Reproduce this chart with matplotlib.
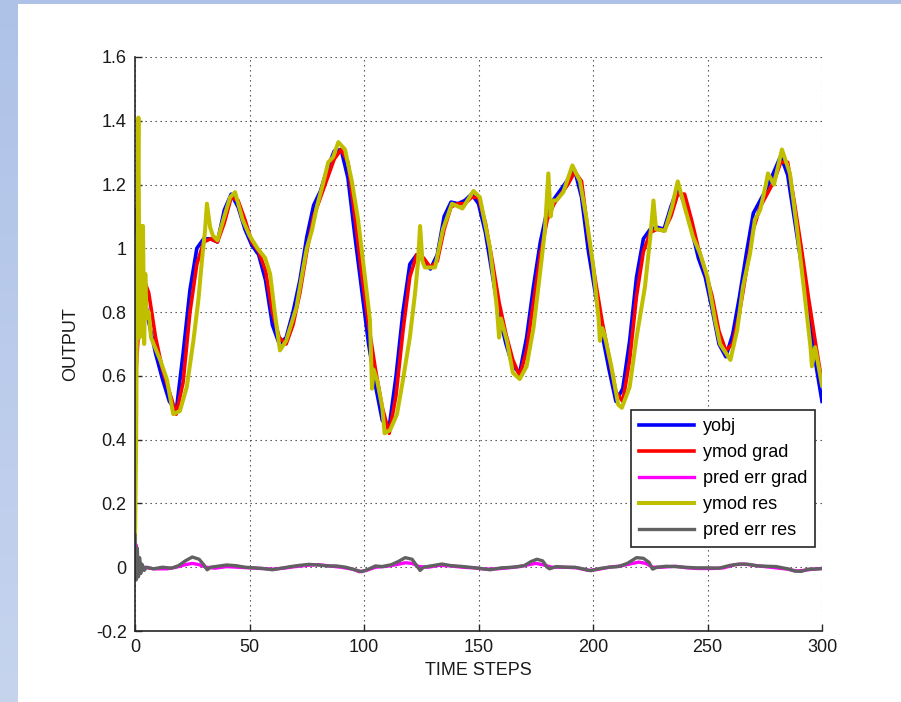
import numpy as np
import matplotlib
matplotlib.use('Agg')
import matplotlib.pyplot as plt

#%%
# data
t_grid = list(range(0, 301, 3))

yobj = [1.12, 0.90, 0.77, 0.67, 0.59, 0.52, 0.49, 0.67, 0.87, 1.00,
        1.03, 1.03, 1.02, 1.12, 1.17, 1.13, 1.06, 1.01, 0.98, 0.90,
        0.76, 0.70, 0.72, 0.80, 0.90, 1.035, 1.135, 1.18, 1.25, 1.305,
        1.31, 1.22, 1.04, 0.87, 0.70, 0.57, 0.46, 0.44, 0.60, 0.80,
        0.95, 0.98, 0.965, 0.935, 0.98, 1.10, 1.145, 1.14, 1.15, 1.17,
        1.14, 1.05, 0.92, 0.79, 0.70, 0.63, 0.61, 0.72, 0.88, 1.02,
        1.12, 1.155, 1.185, 1.215, 1.245, 1.16, 0.99, 0.86, 0.73, 0.62,
        0.52, 0.56, 0.71, 0.91, 1.03, 1.06, 1.066, 1.06, 1.13, 1.19,
        1.14, 1.06, 0.97, 0.91, 0.81, 0.70, 0.66, 0.73, 0.85, 0.985,
        1.11, 1.15, 1.19, 1.24, 1.29, 1.23, 1.09, 0.95, 0.80, 0.65,
        0.52]

ymod_grad = [0.56, 0.92, 0.86, 0.72, 0.62, 0.55, 0.48, 0.58, 0.80, 0.95,
             1.02, 1.03, 1.02, 1.08, 1.16, 1.15, 1.09, 1.02, 0.99, 0.93,
             0.80, 0.72, 0.70, 0.76, 0.86, 0.99, 1.10, 1.16, 1.22, 1.28,
             1.31, 1.27, 1.10, 0.92, 0.76, 0.62, 0.50, 0.42, 0.54, 0.74,
             0.91, 0.98, 0.97, 0.94, 0.96, 1.06, 1.13, 1.14, 1.14, 1.16,
             1.16, 1.08, 0.96, 0.83, 0.73, 0.65, 0.60, 0.68, 0.83, 0.98,
             1.09, 1.14, 1.17, 1.20, 1.24, 1.21, 1.04, 0.90, 0.77, 0.66,
             0.55, 0.52, 0.65, 0.85, 0.99, 1.05, 1.06, 1.055, 1.10, 1.17,
             1.17, 1.09, 1.00, 0.93, 0.85, 0.74, 0.68, 0.70, 0.80, 0.93,
             1.06, 1.13, 1.17, 1.21, 1.27, 1.27, 1.14, 1.00, 0.85, 0.71,
             0.58]

t_res = [0, 0.5, 1, 1.5, 2, 2.5, 3, 3.5, 4, 4.5, 5, 6, 7, 8.7, 11, 14, 16.7,
         19.6, 22.6, 25.5, 27.7, 29.2, 30.6, 31.4, 32.8, 34, 36, 38.6, 41.5,
         43.7, 47, 50, 53.5, 56.8, 59, 61, 63.3, 66, 70.5, 73.5, 75, 77.3,
         79.4, 82, 84.4, 86.5, 88.8, 91.7, 94.7, 97.4, 100.4, 102.6, 103.5,
         104.2, 105.7, 108, 109, 111.4, 114.4, 117, 120, 122.3, 123.5, 124.5,
         125.5, 126.6, 131, 134.5, 138.4, 143, 147.8, 150.6, 155, 158, 159,
         159.8, 162.4, 165, 168, 171, 174, 177, 179, 180.5, 181.5, 182.5, 184,
         187, 191, 194.3, 197, 200, 202.5, 203, 204, 205, 208, 211, 212.6,
         216, 219, 222.7, 225, 226.4, 227.5, 231.4, 234.5, 237, 240, 243.7,
         246.7, 250, 253.3, 255.5, 260, 263, 265.5, 268.6, 270.7, 273, 275.5,
         276.4, 279, 282.5, 286, 289, 292, 295, 295.6, 297, 299, 300]
ymod_res = [0.08, 0.40, 1.00, 1.41, 0.72, 1.07, 0.85, 1.07, 0.70, 0.92, 0.78,
            0.80, 0.72, 0.69, 0.65, 0.587, 0.48, 0.49, 0.565, 0.71, 0.84, 0.96,
            1.057, 1.14, 1.066, 1.04, 1.025, 1.09, 1.16, 1.176, 1.09, 1.04,
            1.00, 0.97, 0.92, 0.80, 0.68, 0.71, 0.815, 0.94, 1.00, 1.057, 1.13,
            1.20, 1.27, 1.286, 1.333, 1.31, 1.21, 1.09, 0.91, 0.775, 0.56,
            0.62, 0.587, 0.50, 0.42, 0.43, 0.48, 0.587, 0.72, 0.86, 0.95, 1.07,
            0.96, 0.94, 0.94, 1.06, 1.14, 1.125, 1.18, 1.16, 1.00, 0.815, 0.72,
            0.78, 0.71, 0.61, 0.59, 0.63, 0.75, 0.93, 1.057, 1.235, 1.10, 1.15,
            1.15, 1.176, 1.26, 1.21, 1.10, 0.95, 0.775, 0.71, 0.75, 0.73, 0.63,
            0.51, 0.50, 0.565, 0.72, 0.88, 1.035, 1.15, 1.06, 1.055, 1.13,
            1.21, 1.13, 1.035, 0.985, 0.91, 0.775, 0.70, 0.65, 0.745, 0.88,
            0.985, 1.09, 1.12, 1.20, 1.235, 1.20, 1.31, 1.235, 1.066, 0.88,
            0.69, 0.63, 0.69, 0.61, 0.57]

t_err_grad = [0, 0.5, 1, 2, 3, 4, 8, 14, 18, 22, 25, 28, 31, 35, 40, 45, 50, 55,
              60, 65, 70, 75, 80, 85, 90, 95, 98, 101, 105, 110, 114, 118, 121,
              124, 128, 133, 138, 143, 148, 153, 158, 163, 168, 172, 175, 178,
              182, 188, 193, 198, 202, 207, 212, 216, 220, 223, 226, 230, 236,
              241, 246, 252, 257, 262, 266, 270, 275, 280, 285, 289, 292, 296,
              300]
err_grad = [0.0, 0.07, -0.03, 0.02, -0.01, 0.0, -0.005, -0.005, 0.0, 0.008,
            0.012, 0.008, 0.0, -0.003, 0.002, 0.0, -0.002, -0.004, -0.006,
            -0.003, 0.002, 0.006, 0.008, 0.004, 0.0, -0.006, -0.014, -0.01, 0.0,
            0.003, 0.008, 0.014, 0.012, 0.002, 0.0, 0.006, 0.004, 0.0, -0.002,
            -0.006, -0.005, -0.002, 0.002, 0.008, 0.012, 0.008, 0.0, 0.0,
            -0.002, -0.01, -0.007, 0.0, 0.004, 0.01, 0.016, 0.012, 0.0, 0.0,
            0.003, -0.002, -0.004, -0.004, -0.002, 0.008, 0.01, 0.006, 0.002,
            -0.002, -0.006, -0.012, -0.01, -0.006, -0.004]

t_err_res = [0, 0.5, 1, 1.5, 2, 2.5, 3, 4, 5, 8, 12, 16, 19, 22, 25, 28, 30,
             31.5, 33, 36, 40, 44, 48, 52, 56, 60, 64, 68, 72, 76, 80, 84, 88,
             92, 96, 99, 102, 105, 108, 112, 115, 118, 121, 123, 124.5, 126,
             130, 134, 138, 142, 146, 150, 155, 160, 165, 170, 173, 175.5, 178,
             180, 181, 184, 188, 192, 196, 199, 203, 207, 211, 215, 219, 222,
             224.5, 226, 228, 232, 236, 240, 245, 250, 255, 260, 264, 268, 272,
             276, 280, 285, 288, 291, 294, 297, 300]
err_res = [0.10, -0.04, 0.06, -0.03, 0.03, -0.02, 0.01, -0.01, 0.0, -0.005,
           0.0, -0.003, 0.005, 0.02, 0.032, 0.025, 0.008, -0.008, 0.0, 0.003,
           0.007, 0.005, 0.0, -0.002, -0.004, -0.008, -0.003, 0.002, 0.006,
           0.009, 0.007, 0.004, 0.004, 0.0, -0.008, -0.014, -0.006, 0.004,
           0.002, 0.008, 0.018, 0.03, 0.025, 0.005, -0.01, 0.0, 0.005, 0.01,
           0.005, 0.003, 0.0, -0.003, -0.008, -0.002, 0.0, 0.005, 0.018, 0.025,
           0.02, 0.0, -0.005, 0.002, 0.0, 0.0, -0.006, -0.011, -0.004, 0.0,
           0.002, 0.012, 0.03, 0.028, 0.015, -0.006, 0.0, 0.003, 0.002, 0.0,
           -0.002, -0.002, -0.003, 0.006, 0.01, 0.009, 0.004, 0.003, 0.002,
           -0.005, -0.012, -0.013, -0.006, -0.006, -0.004]

ytick_vals = [-0.2, 0, 0.2, 0.4, 0.6, 0.8, 1, 1.2, 1.4, 1.6]
ytick_labels = ['-0.2', '0', '0.2', '0.4', '0.6', '0.8', '1', '1.2', '1.4', '1.6']
xtick_vals = [0, 50, 100, 150, 200, 250, 300]

#%%
plt.rcParams['font.family'] = ['Liberation Sans', 'DejaVu Sans']
fig = plt.figure(figsize=(9.01, 7.02), dpi=100)

# slide background strips (light blue gradient on the left and top)
grad = np.linspace(0, 1, 256).reshape(-1, 1)
bg_left = fig.add_axes([0, 0, 18 / 901, 1])
bg_left.imshow(grad, aspect='auto', cmap=matplotlib.colors.LinearSegmentedColormap.from_list(
    'slide', ['#aec2e8', '#c6d4ee']), extent=[0, 1, 0, 1])
bg_left.axis('off')
bg_top = fig.add_axes([0, 1 - 4 / 702, 1, 4 / 702])
bg_top.set_facecolor('#aec2e8')
bg_top.set_xticks([])
bg_top.set_yticks([])
for s in bg_top.spines.values():
    s.set_visible(False)

ax = fig.add_axes([135 / 901, 1 - 631 / 702, 687 / 901, 574 / 702])
ax.plot(t_grid, yobj, color='#0000ff', lw=2.6, label='yobj')
ax.plot(t_grid, ymod_grad, color='#ff0000', lw=2.6, label='ymod grad')
ax.plot(t_err_grad, err_grad, color='#ff00ff', lw=2.4, label='pred err grad')
ax.plot(t_res, ymod_res, color='#bfbf00', lw=2.9, label='ymod res')
ax.plot(t_err_res, err_res, color='#616161', lw=2.4, label='pred err res')

ax.set_xlim(0, 300)
ax.set_ylim(-0.2, 1.6)
ax.set_xticks(xtick_vals)
ax.set_yticks(ytick_vals)
ax.set_yticklabels(ytick_labels)
ax.tick_params(direction='in', length=5, width=1, colors='#262626', labelsize=13,
               labelcolor='#1a1a1a', pad=6)
ax.grid(True, color='#404040', lw=0.8, linestyle=(0, (1.2, 3.3)))
ax.spines['top'].set_visible(False)
ax.spines['right'].set_visible(False)
for s in ['left', 'bottom']:
    ax.spines[s].set_color('#262626')
    ax.spines[s].set_linewidth(1.2)
ax.set_xlabel('TIME STEPS', fontsize=13, color='#1a1a1a', labelpad=4)
ax.set_ylabel('OUTPUT', fontsize=13, color='#1a1a1a', labelpad=12)

leg = ax.legend(loc='lower right', bbox_to_anchor=(0.99, 0.146), borderaxespad=0,
                fontsize=13, fancybox=False, framealpha=1, edgecolor='#262626',
                handlelength=3.0, handletextpad=0.5, labelspacing=0.5,
                borderpad=0.45)
leg.get_frame().set_linewidth(1.2)

fig.savefig('out.png', dpi=100)
